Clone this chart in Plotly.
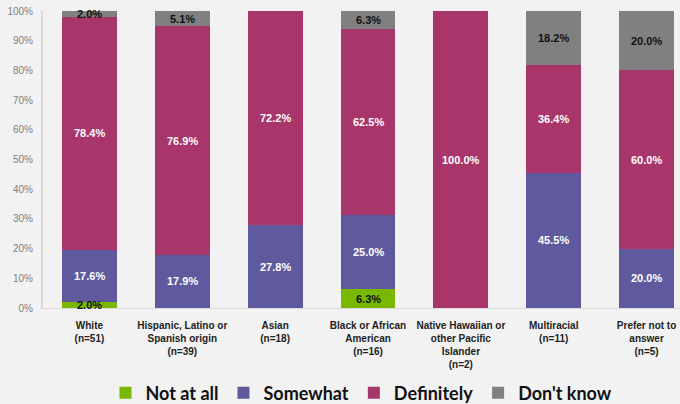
import plotly.graph_objects as go

categories = [
    "White<br>(n=51)",
    "Hispanic, Latino or<br>Spanish origin<br>(n=39)",
    "Asian<br>(n=18)",
    "Black or African<br>American<br>(n=16)",
    "Native Hawaiian or<br>other Pacific<br>Islander<br>(n=2)",
    "Multiracial<br>(n=11)",
    "Prefer not to<br>answer<br>(n=5)",
]
not_at_all = [2.0, 0, 0, 6.3, 0, 0, 0]
somewhat = [17.6, 17.9, 27.8, 25.0, 0, 45.5, 20.0]
definitely = [78.4, 76.9, 72.2, 62.5, 100.0, 36.4, 60.0]
dont_know = [2.0, 5.1, 0, 6.3, 0, 18.2, 20.0]
y_ticks = [0, 10, 20, 30, 40, 50, 60, 70, 80, 90, 100]

series = [
    ("Not at all", not_at_all, "#7ab800", "#111111"),
    ("Somewhat", somewhat, "#5f5a9e", "#ffffff"),
    ("Definitely", definitely, "#a8366a", "#ffffff"),
    ("Don't know", dont_know, "#808080", "#111111"),
]

fig = go.Figure()
base = [0.0] * len(categories)
for name, vals, color, tcolor in series:
    fig.add_trace(go.Bar(
        name=name,
        x=categories,
        y=vals,
        marker=dict(color=color, line=dict(width=0)),
        hoverinfo="skip",
    ))
    for i, v in enumerate(vals):
        if v > 0:
            fig.add_annotation(
                x=categories[i], y=base[i] + v / 2,
                text=f"<b>{v:.1f}%</b>",
                showarrow=False,
                font=dict(color=tcolor, size=11, family="Liberation Sans"),
            )
        base[i] += v

fig.update_layout(
    barmode="stack",
    bargap=0.41,
    width=680,
    height=404,
    margin=dict(l=43, r=0, t=11, b=96, autoexpand=False),
    paper_bgcolor="#f2f2f2",
    plot_bgcolor="#f2f2f2",
    font=dict(family="Liberation Sans"),
    showlegend=True,
    legend=dict(
        orientation="h",
        x=0.5, xanchor="center",
        y=-0.286, yanchor="middle",
        font=dict(size=18, color="#111111", family="Lato", weight="bold"),
        traceorder="normal",
        itemwidth=30,
        bgcolor="rgba(0,0,0,0)",
    ),
    xaxis=dict(
        range=[-0.5, 6.36],
        showline=True,
        linecolor="#d9d9d9",
        linewidth=1,
        ticks="",
        automargin=False,
        ticklabelstandoff=8,
        tickfont=dict(size=10, color="#222222", family="Liberation Sans", weight="bold"),
        fixedrange=True,
    ),
    yaxis=dict(
        range=[0, 100],
        tickvals=y_ticks,
        ticktext=[f"{v}%" for v in y_ticks],
        showgrid=False,
        zeroline=False,
        showline=True,
        linecolor="#d9d9d9",
        linewidth=2,
        ticks="",
        automargin=False,
        ticklabelstandoff=6,
        tickfont=dict(size=10, color="#808080", family="Liberation Sans"),
        fixedrange=True,
    ),
)

fig.write_html("out.html")
